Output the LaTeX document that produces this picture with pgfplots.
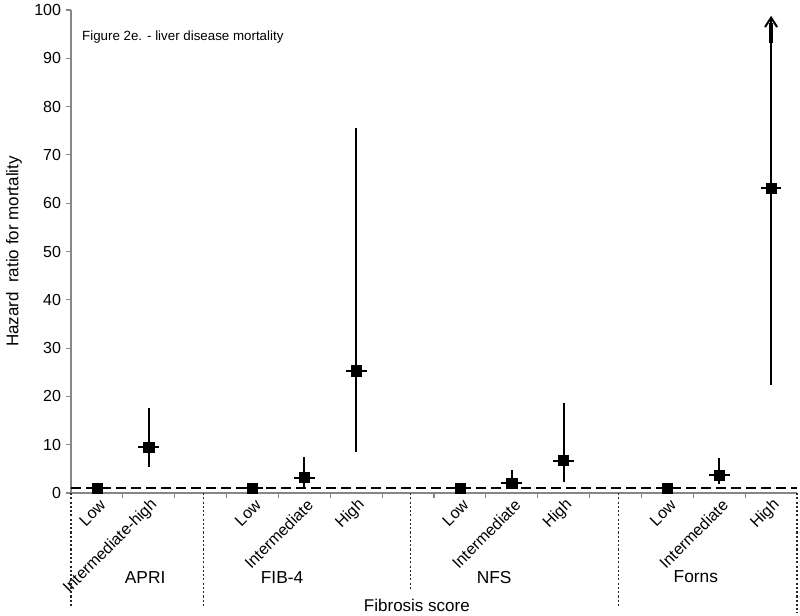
\documentclass[border=0pt]{standalone}
\usepackage{fontspec}
\setmainfont{Liberation Sans}
\usepackage{pgfplots}
\usepackage{pgfplotstable}
\pgfplotsset{compat=1.18}
\usetikzlibrary{arrows.meta}

\definecolor{axgray}{RGB}{134,134,134}

% hazard ratio with 95% CI (lo, hi), categories 1..14 (3, 7, 11 left empty)
\pgfplotstableread{
x  y    lo   hi
1  1.0  1.0  1.0
2  9.5  5.3  17.7
4  1.0  1.0  1.0
5  3.2  1.3  7.4
6  25.3 8.5  75.6
8  1.0  1.0  1.0
9  2.1  1.0  4.8
10 6.7  2.3  18.6
12 1.0  1.0  1.0
13 3.7  1.9  7.2
}\hrdata
\pgfplotstableread{
x  y    lo
14 63.1 22.4
}\hrforns

\begin{document}
\begin{tikzpicture}
\path[use as bounding box] (-53.25pt,-91.5pt) rectangle (546.75pt,369.75pt);
\begin{axis}[
    at={(0,0)}, anchor=south west,
    scale only axis,
    width=544.5pt, height=362.25pt,
    xmin=0.5, xmax=14.5,
    ymin=0, ymax=100,
    clip=false,
    axis lines*=left,
    axis line style={draw=axgray, line width=0.8pt},
    tick align=outside,
    major tick length=4pt,
    minor tick length=4pt,
    ytick={0,10,...,100},
    y tick style={draw=axgray, line width=0.8pt},
    major x tick style={draw=none},
    minor x tick style={draw=axgray, line width=0.8pt},
    xtick={1,2,4,5,6,8,9,10,12,13,14},
    xticklabels={Low,Intermediate-high,Low,Intermediate,High,Low,Intermediate,High,Low,Intermediate,High},
    minor xtick={1.5,2.5,...,13.5},
    xticklabel style={xshift=4.5pt, yshift=-3pt, rotate=45, anchor=east, inner sep=0pt,
        font=\fontsize{12}{13}\selectfont},
    yticklabel style={font=\fontsize{12}{13}\selectfont},
    /pgf/number format/assume math mode=true,
    ylabel={Hazard\ \ ratio for mortality},
    ylabel style={at={(axis description cs:-0.0785,0.5)}, anchor=center,
        font=\fontsize{12.75}{14}\selectfont},
]
% reference line at HR = 1
\addplot[black, line width=1.5pt, dash pattern=on 7.5pt off 3.75pt] coordinates {(0.5,1) (14.5,1)};

\addplot[only marks, mark=square*, mark size=3.8pt, black,
    error bars/.cd, y dir=both, y explicit, x dir=both, x fixed=0.2,
    error mark=none, error bar style={line width=1.5pt, black}]
    table[x=x, y=y,
          y error plus expr=\thisrow{hi}-\thisrow{y},
          y error minus expr=\thisrow{y}-\thisrow{lo}] {\hrdata};

% Forns high: upper limit off the scale
\addplot[black, line width=1.5pt, -{Straight Barb[length=7pt, width=9pt, line width=1.5pt]}]
    coordinates {(14,63.1) (14,98.8)};
\addplot[black, line width=2.8pt] coordinates {(14,93.2) (14,97.4)};
\addplot[only marks, mark=square*, mark size=3.8pt, black,
    error bars/.cd, y dir=minus, y explicit, x dir=both, x fixed=0.2,
    error mark=none, error bar style={line width=1.5pt, black}]
    table[x=x, y=y, y error minus expr=\thisrow{y}-\thisrow{lo}] {\hrforns};

% group separators
\draw[black!85, line width=0.8pt, dash pattern=on 1.6pt off 1.6pt] (axis cs:0.5,0) -- (axis cs:0.5,-23.4);
\draw[black!85, line width=0.8pt, dash pattern=on 1.6pt off 1.6pt] (axis cs:3.05,0) -- (axis cs:3.05,-23.4);
\draw[black!85, line width=0.8pt, dash pattern=on 1.6pt off 1.6pt] (axis cs:7.04,0) -- (axis cs:7.04,-20.1);
\draw[black!85, line width=0.8pt, dash pattern=on 1.6pt off 1.6pt] (axis cs:11.05,0) -- (axis cs:11.05,-23.4);
\draw[black!85, line width=0.8pt, dash pattern=on 1.6pt off 1.6pt] (axis cs:14.5,0) -- (axis cs:14.5,-24.8);

% group names and axis title
\node[font=\fontsize{13}{15}\selectfont] at (axis cs:1.93,-17.4) {APRI};
\node[font=\fontsize{13}{15}\selectfont] at (axis cs:4.57,-17.4) {FIB-4};
\node[font=\fontsize{13}{15}\selectfont] at (axis cs:8.66,-17.4) {NFS};
\node[font=\fontsize{13}{15}\selectfont] at (axis cs:12.55,-17.4) {Forns};
\node[font=\fontsize{12.75}{14}\selectfont] at (axis cs:7.17,-23.2) {Fibrosis score};

\node[anchor=base west, inner sep=0pt, font=\fontsize{10}{12}\selectfont] at (axis cs:0.71,93.6)
    {Figure 2e. - liver disease mortality};
\end{axis}
\end{tikzpicture}
\end{document}
